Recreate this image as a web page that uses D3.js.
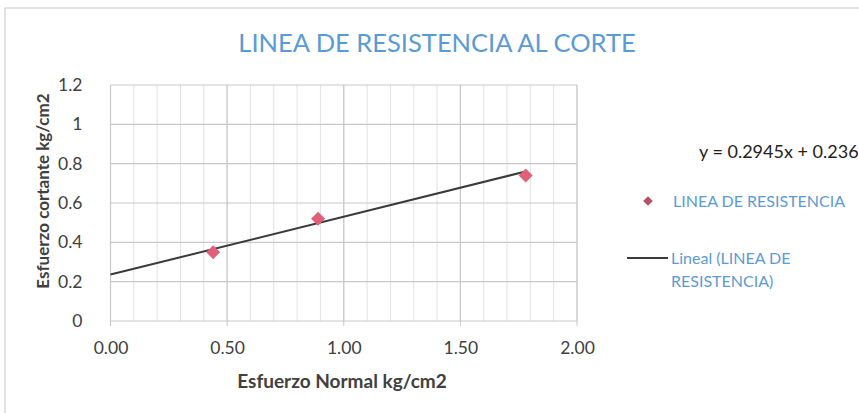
<!DOCTYPE html>
<html><head><meta charset="utf-8">
<script src="https://cdn.jsdelivr.net/npm/d3@7/dist/d3.min.js"></script>
<style>body{margin:0;background:#fff}svg{display:block}</style>
</head><body>
<svg id="c" width="859" height="413"></svg>
<script>
const title = "LINEA DE RESISTENCIA AL CORTE";
const xTitle = "Esfuerzo Normal kg/cm2";
const yTitle = "Esfuerzo cortante kg/cm2";
const xValues = [0.44, 0.89, 1.78];
const yValues = [0.35, 0.52, 0.74];
const xTicks = [0, 0.5, 1.0, 1.5, 2.0];
const yTicks = [0, 0.2, 0.4, 0.6, 0.8, 1.0, 1.2];
const trendSlope = 0.2945, trendIntercept = 0.236;
const trendRange = [0, 1.78];
const equationLabel = "y = 0.2945x + 0.236";
const seriesName = "LINEA DE RESISTENCIA";
const trendName = ["Lineal (LINEA DE", "RESISTENCIA)"];

const svg = d3.select("#c");
const font = "Lato, 'Open Sans', sans-serif";
const blue = "#5b9bd5", mark = "#e0607a", gridC = "#c8c8c8", txt = "#404040";

svg.append("rect").attr("x",5).attr("y",8).attr("width",900).attr("height",450)
  .attr("fill","none").attr("stroke","#c8c8c8").attr("stroke-width",1);

const x = d3.scaleLinear().domain([0,2]).range([110.5,577]);
const y = d3.scaleLinear().domain([0,1.2]).range([321,85]);

const g = svg.append("g");
g.selectAll(".vm").data(d3.range(0,2.0001,0.1)).join("line")
  .attr("x1",d=>x(d)).attr("x2",d=>x(d)).attr("y1",y(0)).attr("y2",y(1.2))
  .attr("stroke","#e2e2e2").attr("stroke-width",1);
g.selectAll(".vM").data(xTicks).join("line")
  .attr("x1",d=>x(d)).attr("x2",d=>x(d)).attr("y1",y(0)).attr("y2",y(1.2))
  .attr("stroke",gridC).attr("stroke-width",1.2);
g.selectAll(".hM").data(yTicks).join("line")
  .attr("x1",x(0)).attr("x2",x(2)).attr("y1",d=>y(d)).attr("y2",d=>y(d))
  .attr("stroke",gridC).attr("stroke-width",1.2);
g.selectAll(".tk").data(xTicks).join("line")
  .attr("x1",d=>x(d)).attr("x2",d=>x(d)).attr("y1",y(0)).attr("y2",y(0)+5)
  .attr("stroke",gridC);

const xAxis = d3.axisBottom(x).tickValues(xTicks).tickFormat(d3.format(".2f")).tickSize(0).tickPadding(21);
svg.append("g").attr("transform",`translate(0,${y(0)})`).call(xAxis)
  .call(s=>s.select(".domain").remove())
  .selectAll("text").attr("font-family",font).attr("font-size",17.5).attr("fill",txt);
const yAxis = d3.axisLeft(y).tickValues(yTicks).tickFormat(d=>d3.format("")(+d.toFixed(1))).tickSize(0).tickPadding(28);
svg.append("g").attr("transform",`translate(${x(0)},0)`).call(yAxis)
  .call(s=>s.select(".domain").remove())
  .selectAll("text").attr("font-family",font).attr("font-size",17.5).attr("fill",txt);

svg.append("line")
  .attr("x1",x(trendRange[0])).attr("y1",y(trendSlope*trendRange[0]+trendIntercept))
  .attr("x2",x(trendRange[1])).attr("y2",y(trendSlope*trendRange[1]+trendIntercept))
  .attr("stroke","#3a3a3a").attr("stroke-width",2);

const sym = d3.symbol().type(d3.symbolDiamond2).size(125);
svg.selectAll(".pt").data(xValues.map((v,i)=>[v,yValues[i]])).join("path")
  .attr("d",sym).attr("transform",d=>`translate(${x(d[0])},${y(d[1])})`)
  .attr("fill",mark);

svg.append("text").attr("x",437).attr("y",52).attr("text-anchor","middle")
  .attr("font-family",font).attr("font-size",25.5).attr("fill",blue).text(title);
svg.append("text").attr("x",342).attr("y",388).attr("text-anchor","middle")
  .attr("font-family",font).attr("font-weight","bold").attr("font-size",19).attr("fill",txt).text(xTitle);
svg.append("text").attr("transform","translate(49,191) rotate(-90)").attr("text-anchor","middle")
  .attr("font-family",font).attr("font-weight","bold").attr("font-size",17).attr("fill",txt).text(yTitle);

svg.append("text").attr("x",699).attr("y",158).attr("font-family",font).attr("font-size",18)
  .attr("fill","#222").text(equationLabel);
svg.append("path").attr("d",d3.symbol().type(d3.symbolDiamond2).size(60))
  .attr("transform","translate(648,201)").attr("fill","#b8506a");
svg.append("text").attr("x",673).attr("y",207).attr("font-family",font).attr("font-size",16)
  .attr("fill",blue).text(seriesName);
svg.append("line").attr("x1",627).attr("x2",668).attr("y1",258).attr("y2",258)
  .attr("stroke","#3a3a3a").attr("stroke-width",2);
svg.selectAll(".tn").data(trendName).join("text").attr("x",671).attr("y",(d,i)=>264+i*23)
  .attr("font-family",font).attr("font-size",16).attr("fill",blue).text(d=>d);
</script>
</body></html>
